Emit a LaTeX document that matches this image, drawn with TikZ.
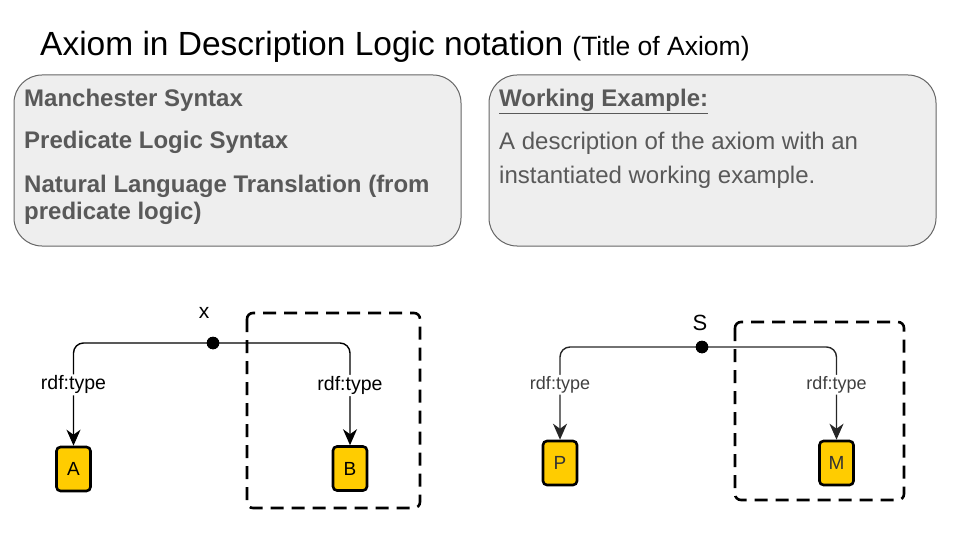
\documentclass[tikz,border=0pt]{standalone}
\usepackage{fontspec}
\setmainfont{Liberation Sans}
\usetikzlibrary{arrows.meta}
\definecolor{panelfill}{HTML}{EEEEEE}
\definecolor{paneltext}{HTML}{595959}
\definecolor{paneledge}{HTML}{666666}
\definecolor{classyellow}{HTML}{FFCC00}
\begin{document}
\begin{tikzpicture}[x=1pt,y=-1pt,
  panel/.style={draw=paneledge,line width=1pt,fill=panelfill,rounded corners=28pt},
  paneltxt/.style={text=paneltext,inner sep=0pt,anchor=base west,align=left},
  classbox/.style={draw=black,line width=2.6pt,fill=classyellow,rounded corners=4pt,
    minimum width=34pt,minimum height=44pt,inner sep=0pt,font=\fontsize{19}{21}\selectfont},
  scopebox/.style={draw=black,line width=2.6pt,dashed,dash pattern=on 13pt off 8pt,rounded corners=6pt},
  typelink/.style={line width=1.4pt,rounded corners=10pt,-{Stealth[length=16pt,width=14pt,inset=5pt]}},
  typelabel/.style={fill=white,inner sep=1.5pt,font=\fontsize{19.5}{21}\selectfont},
  varlabel/.style={inner sep=0pt,font=\fontsize{21}{23}\selectfont},
  subject/.style={circle,fill=black,inner sep=0pt,minimum size=12.5pt}]
\useasboundingbox (0,0) rectangle (960,540);

% heading
\node[anchor=base west,inner sep=0pt] (title) at (40,56)
  {\fontsize{33.5}{38}\selectfont Axiom in Description Logic notation\hspace{9pt}\fontsize{26.5}{30}\selectfont(Title of Axiom)};

% syntax panel
\draw[panel] (14,75) rectangle (461,246);
\node[paneltxt,font=\fontsize{24}{27}\selectfont\bfseries] (manchester) at (24,107) {Manchester Syntax};
\node[paneltxt,font=\fontsize{24}{27}\selectfont\bfseries] (predicate) at (24,149) {Predicate Logic Syntax};
\node[paneltxt,font=\fontsize{24}{27}\selectfont\bfseries] (natural) at (24,219) {Natural Language Translation (from\\predicate logic)};

% example panel
\draw[panel] (489,75) rectangle (936,246);
\node[paneltxt,font=\fontsize{24}{27}\selectfont\bfseries] (exhead) at (499,107) {\underline{Working Example:}};
\node[paneltxt,font=\fontsize{24}{33}\selectfont] (exdesc) at (499,183) {A description of the axiom with an\\instantiated working example.};

% generic pattern
\draw[scopebox] (247,313) rectangle (420,508);
\node[classbox] (A) at (73.5,469) {A};
\node[classbox] (B) at (350,468.5) {B};
\node[subject] (x) at (213,343) {};
\node[varlabel] (xlab) at (204,313) {x};
\draw[typelink] (x.center) -| node[typelabel,pos=0.704] {rdf:type} (A.north);
\draw[typelink] (x.center) -| node[typelabel,pos=0.708] {rdf:type} (B.north);
\node[subject] at (213,343) {};

% instantiated pattern
\draw[scopebox] (735,322) rectangle (904,500);
\node[classbox,text=black!80] (P) at (560,463) {P};
\node[classbox,text=black!80] (M) at (836.5,463) {M};
\node[subject] (s) at (702,347) {};
\node[varlabel,font=\fontsize{22}{24}\selectfont] (slab) at (700,323) {S};
\draw[typelink,draw=black!85] (s.center) -| node[typelabel,text=black!75,font=\fontsize{18}{20}\selectfont,pos=0.704] {rdf:type} (P.north);
\draw[typelink,draw=black!85] (s.center) -| node[typelabel,text=black!75,font=\fontsize{18}{20}\selectfont,pos=0.704] {rdf:type} (M.north);
\node[subject] at (702,347) {};
\end{tikzpicture}
\end{document}
